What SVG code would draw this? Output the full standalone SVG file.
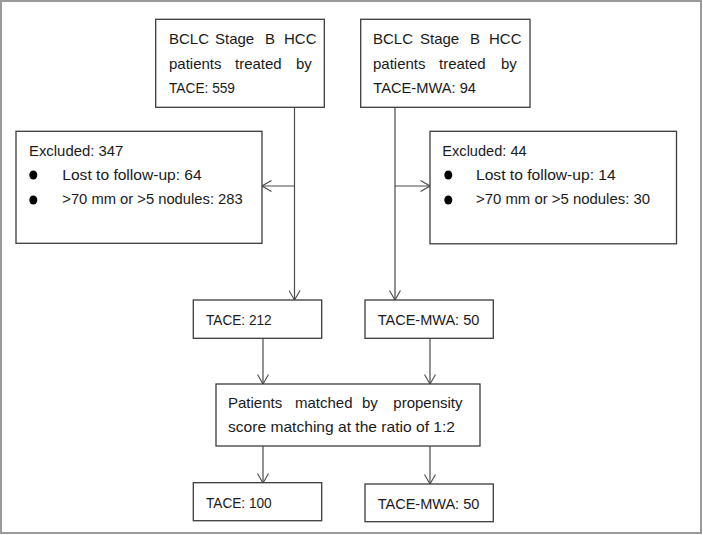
<svg xmlns="http://www.w3.org/2000/svg" width="703" height="535" viewBox="0 0 703 535">
<style>
.box{fill:#fff;stroke:#3c3c3c;stroke-width:1.3}
.t{font-family:"Liberation Sans",Arial,sans-serif;font-size:15px;fill:#1a1a1a}
.ln{fill:none;stroke:#4a4a4a;stroke-width:1.2}
.dot{fill:#000}
</style>
<defs>
<marker id="arr" viewBox="0 0 10 12" refX="10" refY="6" markerWidth="10" markerHeight="12" markerUnits="userSpaceOnUse" orient="auto">
<path d="M0.5,0.5 L10,6 L0.5,11.5" fill="none" stroke="#4a4a4a" stroke-width="1.1"/>
</marker>
</defs>
<rect x="1" y="1" width="700" height="532" fill="#fff" stroke="#9a9a9a" stroke-width="2"/>
<g id="connectors">
<line class="ln" x1="294.5" y1="107" x2="294.5" y2="300" marker-end="url(#arr)"/>
<line class="ln" x1="294.5" y1="186" x2="262" y2="186" marker-end="url(#arr)"/>
<line class="ln" x1="395" y1="107" x2="395" y2="300" marker-end="url(#arr)"/>
<line class="ln" x1="395" y1="186" x2="430" y2="186" marker-end="url(#arr)"/>
<line class="ln" x1="263" y1="338" x2="263" y2="384" marker-end="url(#arr)"/>
<line class="ln" x1="430" y1="338" x2="430" y2="384" marker-end="url(#arr)"/>
<line class="ln" x1="263" y1="446" x2="263" y2="483" marker-end="url(#arr)"/>
<line class="ln" x1="430" y1="446" x2="430" y2="484" marker-end="url(#arr)"/>
</g>
<g id="tace-start">
<rect class="box" x="155.7" y="19.3" width="168.6" height="88"/>
<text class="t" y="44"><tspan x="169">BCLC</tspan><tspan x="215">Stage</tspan><tspan x="265">B</tspan><tspan x="284">HCC</tspan></text>
<text class="t" y="69"><tspan x="169">patients</tspan><tspan x="235">treated</tspan><tspan x="296">by</tspan></text>
<text class="t" x="169" y="93" textLength="66" lengthAdjust="spacingAndGlyphs">TACE: 559</text>
</g>
<g id="mwa-start">
<rect class="box" x="360.7" y="19.3" width="169.3" height="88"/>
<text class="t" y="44"><tspan x="373">BCLC</tspan><tspan x="420">Stage</tspan><tspan x="470">B</tspan><tspan x="489">HCC</tspan></text>
<text class="t" y="69"><tspan x="373">patients</tspan><tspan x="439">treated</tspan><tspan x="501">by</tspan></text>
<text class="t" x="373.3" y="93" textLength="102.7" lengthAdjust="spacingAndGlyphs">TACE-MWA: 94</text>
</g>
<g id="tace-excluded">
<rect class="box" x="16" y="131.3" width="246" height="112"/>
<text class="t" x="29" y="155.7" textLength="94.3" lengthAdjust="spacingAndGlyphs">Excluded: 347</text>
<ellipse class="dot" cx="33.3" cy="175" rx="4" ry="4.5"/>
<text class="t" x="62.3" y="180" textLength="139.4" lengthAdjust="spacingAndGlyphs">Lost to follow-up: 64</text>
<ellipse class="dot" cx="33.3" cy="200" rx="4" ry="4.5"/>
<text class="t" x="62.3" y="204" textLength="180.4" lengthAdjust="spacingAndGlyphs">&gt;70 mm  or &gt;5 nodules: 283</text>
</g>
<g id="mwa-excluded">
<rect class="box" x="430" y="131.3" width="246.5" height="112.5"/>
<text class="t" x="442.3" y="155.7" textLength="84.4" lengthAdjust="spacingAndGlyphs">Excluded: 44</text>
<ellipse class="dot" cx="448.3" cy="175" rx="4" ry="4.5"/>
<text class="t" x="476" y="180" textLength="139.7" lengthAdjust="spacingAndGlyphs">Lost to follow-up: 14</text>
<ellipse class="dot" cx="448.3" cy="200" rx="4" ry="4.5"/>
<text class="t" x="476" y="204" textLength="174" lengthAdjust="spacingAndGlyphs">&gt;70 mm  or &gt;5 nodules: 30</text>
</g>
<g id="tace-212">
<rect class="box" x="193.3" y="300" width="128.4" height="38.3"/>
<text class="t" x="206" y="325" textLength="65.7" lengthAdjust="spacingAndGlyphs">TACE: 212</text>
</g>
<g id="mwa-50">
<rect class="box" x="365" y="300" width="128.3" height="38.3"/>
<text class="t" x="377.7" y="325" textLength="101.6" lengthAdjust="spacingAndGlyphs">TACE-MWA: 50</text>
</g>
<g id="matching">
<rect class="box" x="216" y="384" width="264" height="62"/>
<text class="t" y="408.3"><tspan x="228">Patients</tspan><tspan x="295">matched</tspan><tspan x="362">by</tspan><tspan x="393.3">propensity</tspan></text>
<text class="t" x="228" y="432.3" textLength="227" lengthAdjust="spacingAndGlyphs">score matching at the ratio of 1:2</text>
</g>
<g id="tace-100">
<rect class="box" x="193.3" y="482.7" width="128.4" height="38"/>
<text class="t" x="206" y="507.7" textLength="65.7" lengthAdjust="spacingAndGlyphs">TACE: 100</text>
</g>
<g id="mwa-50-matched">
<rect class="box" x="365" y="484" width="128.3" height="37.7"/>
<text class="t" x="377.7" y="508.7" textLength="101.6" lengthAdjust="spacingAndGlyphs">TACE-MWA: 50</text>
</g>
</svg>
